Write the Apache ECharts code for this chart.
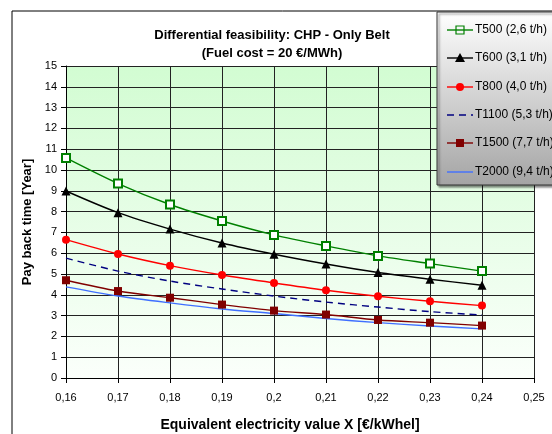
<!DOCTYPE html>
<html><head><meta charset="utf-8">
<script src="https://cdn.jsdelivr.net/npm/echarts@6/dist/echarts.min.js"></script>
<style>html,body{margin:0;padding:0;background:#fff}#c{width:552px;height:434px}</style>
</head><body><div id="c"></div>
<script>
const xValues = [0.16, 0.17, 0.18, 0.19, 0.20, 0.21, 0.22, 0.23, 0.24];
const seriesNames = ['T500 (2,6 t/h)', 'T600 (3,1 t/h)', 'T800 (4,0 t/h)', 'T1100 (5,3 t/h)', 'T1500 (7,7 t/h)', 'T2000 (9,4 t/h)'];
const t500 = [10.58, 9.35, 8.34, 7.55, 6.88, 6.35, 5.87, 5.50, 5.14];
const t600 = [8.99, 7.95, 7.16, 6.49, 5.95, 5.48, 5.07, 4.75, 4.46];
const t800 = [6.65, 5.96, 5.40, 4.95, 4.57, 4.22, 3.93, 3.69, 3.48];
const t1100 = [5.76, 5.14, 4.66, 4.28, 3.94, 3.65, 3.41, 3.19, 3.03];
const t1500 = [4.70, 4.18, 3.86, 3.53, 3.24, 3.05, 2.79, 2.66, 2.52];
const t2000 = [4.38, 3.94, 3.61, 3.32, 3.10, 2.86, 2.66, 2.50, 2.36];
const titleText = 'Differential feasibility: CHP - Only Belt\n(Fuel cost = 20 €/MWh)';
const xName = 'Equivalent electricity value X [€/kWhel]';
const yName = 'Pay back time [Year]';

const pair = arr => arr.map((v, i) => [xValues[i], v]);
const font = 'Liberation Sans, Arial, sans-serif';
const chart = echarts.init(document.getElementById('c'));

const styles = [
  { color: '#008000', symbol: 'emptyRect', size: 8 },
  { color: '#000000', symbol: 'triangle', size: 9 },
  { color: '#ff0000', symbol: 'circle', size: 8 },
  { color: '#000080', symbol: 'none', dash: [7, 5] },
  { color: '#800000', symbol: 'rect', size: 8 },
  { color: '#3f6fff', symbol: 'none' }
];
const allData = [t500, t600, t800, t1100, t1500, t2000];

const series = allData.map((d, i) => {
  const s = styles[i];
  return {
    name: seriesNames[i], type: 'line', data: pair(d), smooth: 0.3,
    symbol: s.symbol, symbolSize: s.size || 0,
    lineStyle: { color: s.color, width: 1.4, type: s.dash || 'solid' },
    itemStyle: { color: s.color, borderColor: s.color, borderWidth: s.symbol === 'emptyRect' ? 1.2 : 0 },
    z: 3
  };
});

// Legend box built with graphic elements
const legendG = [
  { type: 'rect', shape: { x: 437, y: 12, width: 130, height: 173 }, z: 5,
    style: { fill: new echarts.graphic.LinearGradient(0, 0, 0, 1, [{ offset: 0, color: '#ffffff' }, { offset: 1, color: '#a4a4a4' }]),
      stroke: '#333', lineWidth: 1, shadowColor: 'rgba(0,0,0,0.45)', shadowOffsetX: 2, shadowOffsetY: 2, shadowBlur: 2 } }
];
const legendY = [30, 58, 87, 115, 143, 172];
styles.forEach((s, i) => {
  const y = legendY[i];
  legendG.push({ type: 'line', z: 6, shape: { x1: 447, y1: y, x2: 473, y2: y },
    style: { stroke: s.color, lineWidth: 1.4, lineDash: s.dash || null } });
  if (s.symbol === 'emptyRect') legendG.push({ type: 'rect', z: 7, shape: { x: 456, y: y - 4, width: 8, height: 8 }, style: { fill: 'rgba(255,255,255,0)', stroke: s.color, lineWidth: 1.2 } });
  if (s.symbol === 'rect') legendG.push({ type: 'rect', z: 7, shape: { x: 456, y: y - 4, width: 8, height: 8 }, style: { fill: s.color } });
  if (s.symbol === 'circle') legendG.push({ type: 'circle', z: 7, shape: { cx: 460, cy: y, r: 4 }, style: { fill: s.color } });
  if (s.symbol === 'triangle') legendG.push({ type: 'polygon', z: 7, shape: { points: [[460, y - 5], [465, y + 4], [455, y + 4]] }, style: { fill: s.color } });
  legendG.push({ type: 'text', z: 7, x: 475, y: y, style: { text: seriesNames[i], fontSize: 12, fontFamily: font, fill: '#000', verticalAlign: 'middle' } });
});

chart.setOption({
  animation: false,
  textStyle: { fontFamily: font },
  title: {
    text: titleText, left: 267, top: 21, textAlign: 'center',
    textStyle: { fontSize: 13, fontWeight: 'bold', color: '#000', lineHeight: 18, fontFamily: font }
  },
  graphic: [
    { type: 'rect', shape: { x: 12, y: 11, width: 560, height: 440 }, style: { fill: 'none', stroke: '#000', lineWidth: 1 }, z: -10 }
  ].concat(legendG),
  grid: { left: 66, top: 66, right: 18, bottom: 56, show: true, borderWidth: 0, containLabel: false, outerBoundsMode: 'none',
    backgroundColor: new echarts.graphic.LinearGradient(0, 0, 0, 1, [{ offset: 0, color: '#d2fcd2' }, { offset: 1, color: '#fbfffb' }]) },
  xAxis: {
    type: 'value', min: 0.16, max: 0.25, interval: 0.01,
    name: xName, nameLocation: 'middle', nameGap: 40,
    nameTextStyle: { fontSize: 14, fontWeight: 'bold', color: '#000', fontFamily: font, padding: [0, 20, 0, 0] },
    axisLine: { lineStyle: { color: '#000' } },
    axisTick: { show: true, length: 5, lineStyle: { color: '#000' } },
    axisLabel: { fontSize: 11, color: '#000', margin: 14, formatter: v => String(Math.round(v * 100) / 100).replace('.', ',') },
    splitLine: { lineStyle: { color: '#222', width: 1 } }
  },
  yAxis: {
    type: 'value', min: 0, max: 15, interval: 1,
    name: yName, nameLocation: 'middle', nameGap: 29,
    nameTextStyle: { fontSize: 13, fontWeight: 'bold', color: '#000', fontFamily: font },
    axisLine: { show: true, lineStyle: { color: '#000' } },
    axisTick: { show: true, length: 5, lineStyle: { color: '#000' } },
    axisLabel: { fontSize: 11, color: '#000', margin: 9 },
    splitLine: { lineStyle: { color: '#222', width: 1 } }
  },
  series
});
</script></body></html>
